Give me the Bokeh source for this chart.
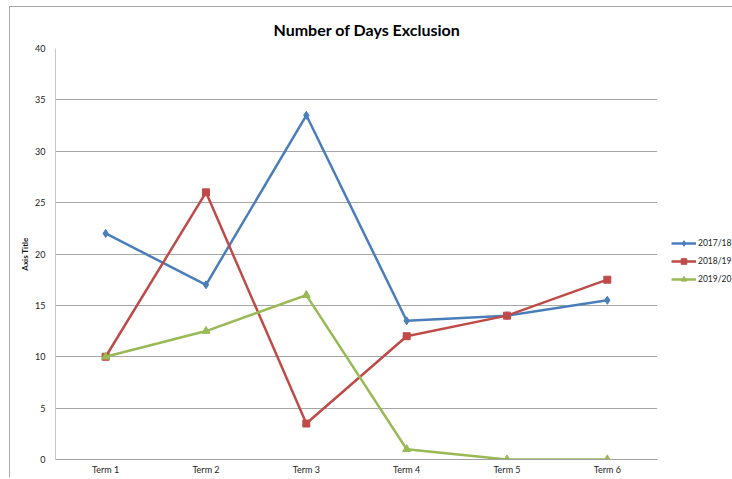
from bokeh.plotting import figure
from bokeh.models import Range1d, Legend, LegendItem, FixedTicker
from bokeh.embed import file_html
from bokeh.resources import INLINE

terms = ["Term 1", "Term 2", "Term 3", "Term 4", "Term 5", "Term 6"]
s1718 = [22, 17, 33.5, 13.5, 14, 15.5]
s1819 = [10, 26, 3.5, 12, 14, 17.5]
s1920 = [10, 12.5, 16, 1, 0, 0]
y_ticks = [0, 5, 10, 15, 20, 25, 30, 35, 40]

FONT = "Lato"

p = figure(frame_width=602, frame_height=411, x_range=terms, y_range=Range1d(0, 40),
           output_backend="svg", toolbar_location=None,
           min_border_left=45, min_border_right=75, min_border_top=41, min_border_bottom=14)
p.margin = (6, 0, 0, 9)
p.styles = {"border-top": "1px solid #a6a6a6", "border-left": "1px solid #a6a6a6"}
p.x_range.range_padding = 0
p.outline_line_color = None
p.background_fill_color = "white"
p.border_fill_color = "white"

p.title.text = "Number of  Days  Exclusion"
p.title.align = "left"
p.title.offset = 218
p.title.standoff = 20
p.title.text_font = FONT
p.title.text_font_size = "16px"
p.title.text_font_style = "bold"
p.title.text_color = "#000000"

p.xgrid.grid_line_color = None
p.ygrid.grid_line_color = "#a6a6a6"
p.ygrid.grid_line_width = 1

p.yaxis.ticker = FixedTicker(ticks=y_ticks)
p.yaxis.axis_line_color = "#c8c8c8"
p.yaxis.major_tick_line_color = None
p.yaxis.minor_tick_line_color = None
p.yaxis.major_tick_out = 0
p.yaxis.major_label_standoff = 10
p.yaxis.major_label_text_font = FONT
p.yaxis.major_label_text_font_size = "9px"
p.yaxis.major_label_text_color = "#222222"
p.yaxis.axis_label = "Axis Title"
p.yaxis.axis_label_text_font = FONT
p.yaxis.axis_label_text_font_size = "8px"
p.yaxis.axis_label_text_font_style = "bold"
p.yaxis.axis_label_text_color = "#111111"
p.yaxis.axis_label_standoff = 2

p.xaxis.axis_line_color = "#a0a0a0"
p.xaxis.major_tick_line_color = None
p.xaxis.minor_tick_line_color = None
p.xaxis.major_tick_out = 0
p.xaxis.major_label_standoff = 4
p.xaxis.major_label_text_font = FONT
p.xaxis.major_label_text_font_size = "9px"
p.xaxis.major_label_text_color = "#222222"

c1, c2, c3 = "#4A7EBB", "#BE4B48", "#98B954"
l1 = p.line(terms, s1718, color=c1, line_width=2.5)
m1 = p.scatter(terms, s1718, marker="diamond", size=8, color=c1)
l2 = p.line(terms, s1819, color=c2, line_width=2.5)
m2 = p.scatter(terms, s1819, marker="square", size=7, color=c2)
l3 = p.line(terms, s1920, color=c3, line_width=2.5)
m3 = p.scatter(terms, s1920, marker="triangle", size=8, color=c3)

legend = Legend(items=[
    LegendItem(label="2017/18", renderers=[l1, m1]),
    LegendItem(label="2018/19", renderers=[l2, m2]),
    LegendItem(label="2019/20", renderers=[l3, m3]),
], location=(14, 173))
legend.label_text_font = FONT
legend.label_text_font_size = "8.5px"
legend.label_text_color = "#222222"
legend.glyph_width = 25
legend.glyph_height = 14
legend.label_standoff = 2
legend.spacing = 4
legend.padding = 0
legend.margin = 0
legend.border_line_color = None
legend.background_fill_alpha = 0
legend.label_height = 14
p.add_layout(legend, "right")

open("out.html", "w").write(file_html(p, INLINE))
